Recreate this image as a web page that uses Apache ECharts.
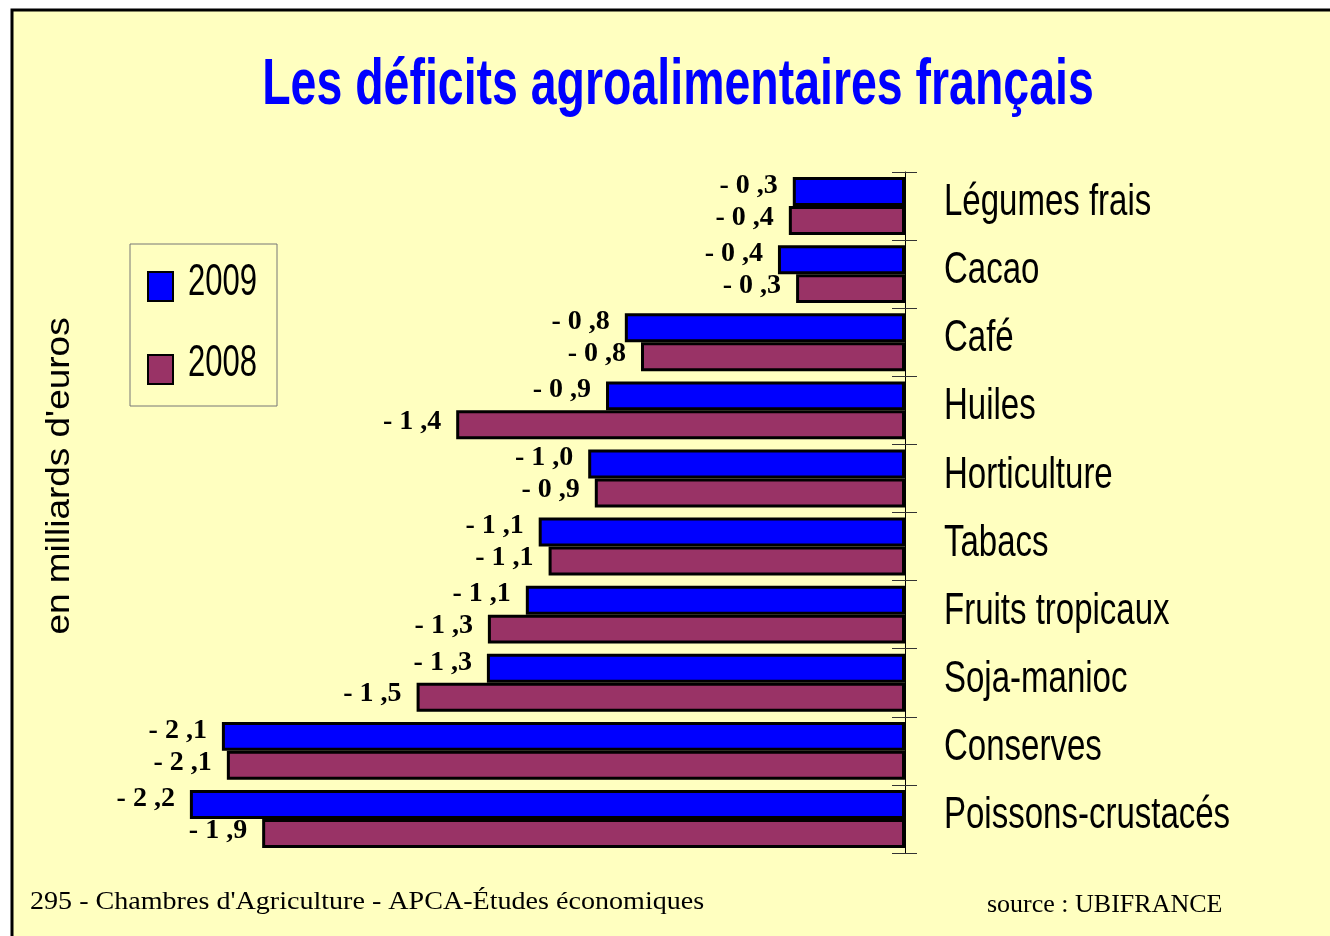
<!DOCTYPE html>
<html>
<head>
<meta charset="utf-8">
<script src="https://cdn.jsdelivr.net/npm/echarts@6/dist/echarts.min.js"></script>
<style>
  html, body { margin: 0; padding: 0; background: #fff; }
  #chart { width: 1330px; height: 936px; }
</style>
</head>
<body>
<div id="chart"></div>
<script>
var categories = ['Légumes frais', 'Cacao', 'Café', 'Huiles', 'Horticulture', 'Tabacs',
  'Fruits tropicaux', 'Soja-manioc', 'Conserves', 'Poissons-crustacés'];
var values2009 = [-0.34, -0.385, -0.849, -0.906, -0.96, -1.11, -1.149, -1.267, -2.07, -2.167];
var values2008 = [-0.352, -0.33, -0.80, -1.36, -0.94, -1.08, -1.264, -1.48, -2.055, -1.948];
var years = ['2009', '2008'];

var sans = '"Liberation Sans", Arial, sans-serif';
var serif = '"Liberation Serif", "Times New Roman", serif';

// libellés "- 0 ,3"
function fmt(p) {
  var s = Math.abs(p.value).toFixed(1).split('.');
  return '- ' + s[0] + ' ,' + s[1];
}

var chart = echarts.init(document.getElementById('chart'));
var option = {
  backgroundColor: '#fff',
  animation: false,
  legend: {
    orient: 'vertical',
    left: 130, top: 244,
    padding: [27, 103, 21, 17],
    itemGap: 52,
    itemWidth: 25, itemHeight: 29,
    borderColor: '#777', borderWidth: 1,
    icon: 'rect',
    formatter: function () { return ''; },
    textStyle: { fontSize: 12 },
    data: years
  },
  grid: { left: 80, right: 425, top: 172, bottom: 83 },
  xAxis: {
    type: 'value', min: -2.5, max: 0, show: false
  },
  yAxis: [{
    type: 'category', data: categories, inverse: true, position: 'right',
    axisLine: { show: true, lineStyle: { color: '#000', width: 1 } },
    axisTick: { show: true, length: 12, lineStyle: { color: '#333' } },
    axisLabel: { show: false }
  }, {
    type: 'category', data: categories, inverse: true, position: 'right',
    axisLine: { show: false },
    axisTick: { show: true, inside: true, length: 13, lineStyle: { color: '#333' } },
    axisLabel: { show: false }
  }],
  series: [{
    name: '2009', type: 'bar', data: values2009,
    barGap: '0%', barCategoryGap: '15%',
    itemStyle: { color: '#0000ff', borderColor: '#000', borderWidth: 3 },
    label: { show: true, position: 'left', distance: 15, offset: [0, -6], formatter: fmt,
      color: '#000', fontFamily: serif, fontWeight: 'bold', fontSize: 28 }
  }, {
    name: '2008', type: 'bar', data: values2008,
    barGap: '0%', barCategoryGap: '15%',
    itemStyle: { color: '#993366', borderColor: '#000', borderWidth: 3 },
    label: { show: true, position: 'left', distance: 15, offset: [0, -3], formatter: fmt,
      color: '#000', fontFamily: serif, fontWeight: 'bold', fontSize: 28 }
  }]
};
chart.setOption(option);

// textes étroits (police condensée simulée par scaleX)
var graphics = [
  { type: 'rect', z: -10, shape: { x: 12, y: 10, width: 1340, height: 950 },
    style: { fill: '#ffffc0', stroke: '#000', lineWidth: 3 } },
  { type: 'text', x: 678, y: 86, scaleX: 0.726,
    style: { text: 'Les déficits agroalimentaires français', fill: '#0000ff',
      font: 'bold 64px ' + sans, align: 'center', verticalAlign: 'middle' } },
  { type: 'text', x: 60, y: 476, rotation: Math.PI / 2, scaleX: 1.12,
    style: { text: "en milliards d'euros", fill: '#000', font: '33px ' + sans,
      align: 'center', verticalAlign: 'middle' } },
  { type: 'text', x: 30, y: 902, scaleX: 1.08,
    style: { text: "295 - Chambres d'Agriculture - APCA-Études économiques", fill: '#000',
      font: '26px ' + serif, verticalAlign: 'middle' } },
  { type: 'text', x: 987, y: 905,
    style: { text: 'source : UBIFRANCE', fill: '#000', font: '26px ' + serif, verticalAlign: 'middle' } },
  { type: 'text', x: 188, y: 283, scaleX: 0.705,
    style: { text: years[0], fill: '#000', font: '44px ' + sans, verticalAlign: 'middle' } },
  { type: 'text', x: 188, y: 364, scaleX: 0.705,
    style: { text: years[1], fill: '#000', font: '44px ' + sans, verticalAlign: 'middle' } }
];
categories.forEach(function (c) {
  var y = chart.convertToPixel({ yAxisIndex: 0 }, c);
  graphics.push({ type: 'text', x: 944, y: y - 3, scaleX: 0.75,
    style: { text: c, fill: '#000', font: '44px ' + sans, verticalAlign: 'middle' } });
});
chart.setOption({ graphic: graphics });
</script>
</body>
</html>
